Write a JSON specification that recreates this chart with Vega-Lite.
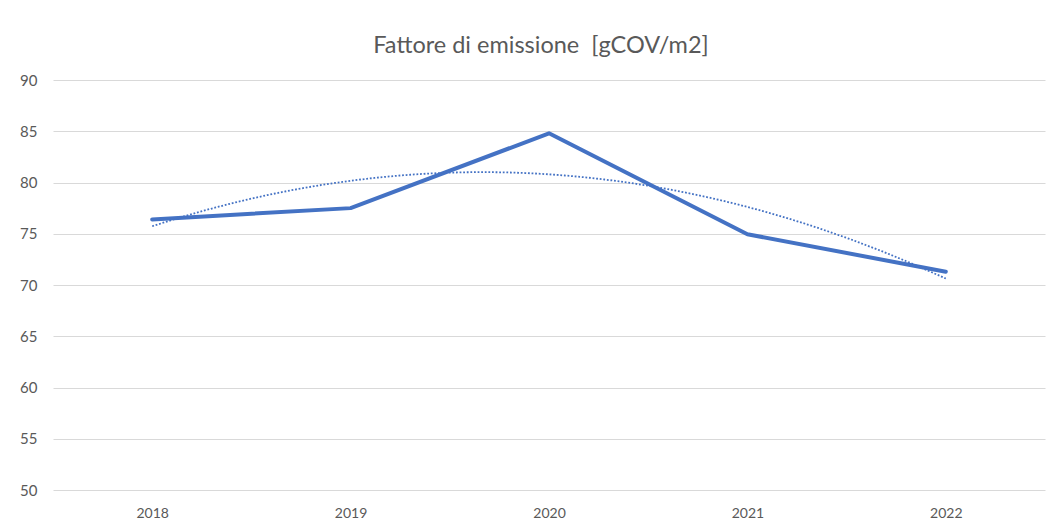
{
  "$schema": "https://vega.github.io/schema/vega-lite/v6.json",
  "width": 992,
  "height": 410,
  "autosize": "none",
  "padding": {"left": 53, "top": 80, "right": 9, "bottom": 42},
  "background": "white",
  "title": {
    "text": "Fattore di emissione \u00a0[gCOV/m2]",
    "font": "Lato",
    "fontSize": 23.5,
    "fontWeight": "normal",
    "color": "#595959",
    "anchor": "middle",
    "dx": -8,
    "offset": 16
  },
  "data": {
    "values": [
      {"year": 2018, "value": 76.4},
      {"year": 2019, "value": 77.5},
      {"year": 2020, "value": 84.8},
      {"year": 2021, "value": 74.95},
      {"year": 2022, "value": 71.3}
    ]
  },
  "encoding": {
    "x": {
      "field": "year",
      "type": "quantitative",
      "scale": {"domain": [2017.5, 2022.5], "nice": false, "zero": false},
      "axis": {
        "values": [2018, 2019, 2020, 2021, 2022],
        "format": "d",
        "title": null,
        "grid": false,
        "domain": false,
        "ticks": false,
        "labelPadding": 16,
        "labelFont": "Lato",
        "labelFontSize": 14,
        "labelColor": "#595959"
      }
    }
  },
  "layer": [
    {
      "mark": {"type": "line", "color": "#4472C4", "strokeWidth": 4, "strokeCap": "round", "strokeJoin": "round"},
      "encoding": {
        "y": {
          "field": "value",
          "type": "quantitative",
          "scale": {"domain": [50, 90], "nice": false, "zero": false},
          "axis": {
            "values": [50, 55, 60, 65, 70, 75, 80, 85, 90],
            "title": null,
            "domain": false,
            "ticks": false,
            "labelPadding": 16,
            "labelFont": "Lato",
            "labelFontSize": 15,
            "labelColor": "#595959",
            "gridColor": "#d9d9d9",
            "gridWidth": 1
          }
        }
      }
    },
    {
      "transform": [
        {"regression": "value", "on": "year", "method": "poly", "order": 2, "extent": [2018, 2022]}
      ],
      "mark": {"type": "line", "color": "#4472C4", "strokeWidth": 1.8, "strokeDash": [1.8, 1.8]},
      "encoding": {
        "y": {"field": "value", "type": "quantitative"}
      }
    }
  ],
  "config": {"view": {"stroke": null}}
}
